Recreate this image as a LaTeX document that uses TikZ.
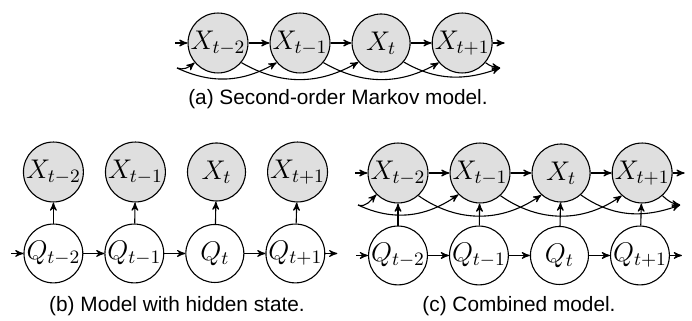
\documentclass[tikz,border=0pt]{standalone}
\usepackage{fix-cm}
\usepackage[no-math]{fontspec}
\newfontfamily\capfont{Liberation Sans}
\usetikzlibrary{arrows,positioning}
\tikzset{
  varnode/.style = {circle, draw=black, inner sep=0pt, minimum size=29pt,
    font=\fontsize{13.5}{15}\selectfont},
  obs_n/.style = {varnode, fill=gray!25},% observed variable, shaded
  hid_n/.style = {varnode, fill=white},% hidden state, white
  capnode/.style = {anchor=base, font=\capfont\fontsize{10.4}{12}\selectfont},
}

\begin{document}
\begin{tikzpicture}[->,>=stealth',line width=0.55pt,node distance=10.5pt]
\useasboundingbox (0,0) rectangle (346pt,160.5pt);
% (a) second order chain
\node [obs_n] (xa1) at (109pt,139pt) {$X_{t-2}$};
\node [obs_n, right=of xa1] (xa2) {$X_{t-1}$};
\node [obs_n, right=of xa2] (xa3) {$X_{t}$};
\node [obs_n, right=of xa3] (xa4) {$X_{t+1}$};
\coordinate [left=6pt of xa1] (ina);
\coordinate [right=6pt of xa4] (outa);
\coordinate (la) at ([shift={(-20.5pt,-12.5pt)}]xa1.center);
\coordinate (ra) at ([shift={(19pt,-12.5pt)}]xa4.center);
\draw (ina) -- (xa1);
\draw (xa1) -- (xa2);
\draw (xa2) -- (xa3);
\draw (xa3) -- (xa4);
\draw (xa4) -- (outa);
\draw (la) to[out=-20,in=-140] (xa1.-140);
\draw (la) to[out=-25,in=-150] (xa2.-140);
\draw (xa1.-40) to[out=-30,in=-150] (xa3.-140);
\draw (xa2.-40) to[out=-30,in=-150] (xa4.-140);
\draw (xa3.-40) to[out=-30,in=-160] (ra);
\draw (xa4.-40) to[out=-40,in=170] (ra);
\node [capnode] (capa) at (169pt,108pt) {(a) Second-order Markov model.};

% (b) hidden state
\node [obs_n] (xb1) at (26.7pt,74.5pt) {$X_{t-2}$};
\node [obs_n, right=of xb1] (xb2) {$X_{t-1}$};
\node [obs_n, right=of xb2] (xb3) {$X_{t}$};
\node [obs_n, right=of xb3] (xb4) {$X_{t+1}$};
\node [hid_n, below=of xb1] (qb1) {$Q_{t-2}$};
\node [hid_n, right=of qb1] (qb2) {$Q_{t-1}$};
\node [hid_n, right=of qb2] (qb3) {$Q_{t}$};
\node [hid_n, right=of qb3] (qb4) {$Q_{t+1}$};
\coordinate [left=6pt of qb1] (inb);
\coordinate [right=6pt of qb4] (outb);
\draw (inb) -- (qb1);
\draw (qb1) -- (qb2);
\draw (qb2) -- (qb3);
\draw (qb3) -- (qb4);
\draw (qb4) -- (outb);
\draw (qb1) -- (xb1);
\draw (qb2) -- (xb2);
\draw (qb3) -- (xb3);
\draw (qb4) -- (xb4);
\node [capnode] (capb) at (88.5pt,4.7pt) {(b) Model with hidden state.};

% (c) both together
\node [obs_n] (xc1) at (199pt,74pt) {$X_{t-2}$};
\node [obs_n, right=of xc1] (xc2) {$X_{t-1}$};
\node [obs_n, right=of xc2] (xc3) {$X_{t}$};
\node [obs_n, right=of xc3] (xc4) {$X_{t+1}$};
\node [hid_n, below=11pt of xc1] (qc1) {$Q_{t-2}$};
\node [hid_n, right=of qc1] (qc2) {$Q_{t-1}$};
\node [hid_n, right=of qc2] (qc3) {$Q_{t}$};
\node [hid_n, right=of qc3] (qc4) {$Q_{t+1}$};
\coordinate [left=6pt of xc1] (inxc);
\coordinate [right=6pt of xc4] (outxc);
\coordinate [left=6pt of qc1] (inqc);
\coordinate [right=6pt of qc4] (outqc);
\coordinate (lc) at ([shift={(-20pt,-16pt)}]xc1.center);
\coordinate (rc) at ([shift={(19pt,-16pt)}]xc4.center);
\draw (inxc) -- (xc1);
\draw (xc1) -- (xc2);
\draw (xc2) -- (xc3);
\draw (xc3) -- (xc4);
\draw (xc4) -- (outxc);
\draw (inqc) -- (qc1);
\draw (qc1) -- (qc2);
\draw (qc2) -- (qc3);
\draw (qc3) -- (qc4);
\draw (qc4) -- (outqc);
\draw (qc1) -- (xc1);
\draw (qc2) -- (xc2);
\draw (qc3) -- (xc3);
\draw (qc4) -- (xc4);
\draw (lc) to[out=-20,in=-135] (xc1.-135);
\draw (lc) to[out=-25,in=-145] (xc2.-135);
\draw (xc1.-48) to[out=-35,in=-145] (xc3.-132);
\draw (xc2.-48) to[out=-35,in=-145] (xc4.-132);
\draw (xc3.-48) to[out=-35,in=-160] (rc);
\draw (xc4.-48) to[out=-45,in=170] (rc);
\node [capnode] (capc) at (259.5pt,4.7pt) {(c) Combined model.};
\end{tikzpicture}
\end{document}
